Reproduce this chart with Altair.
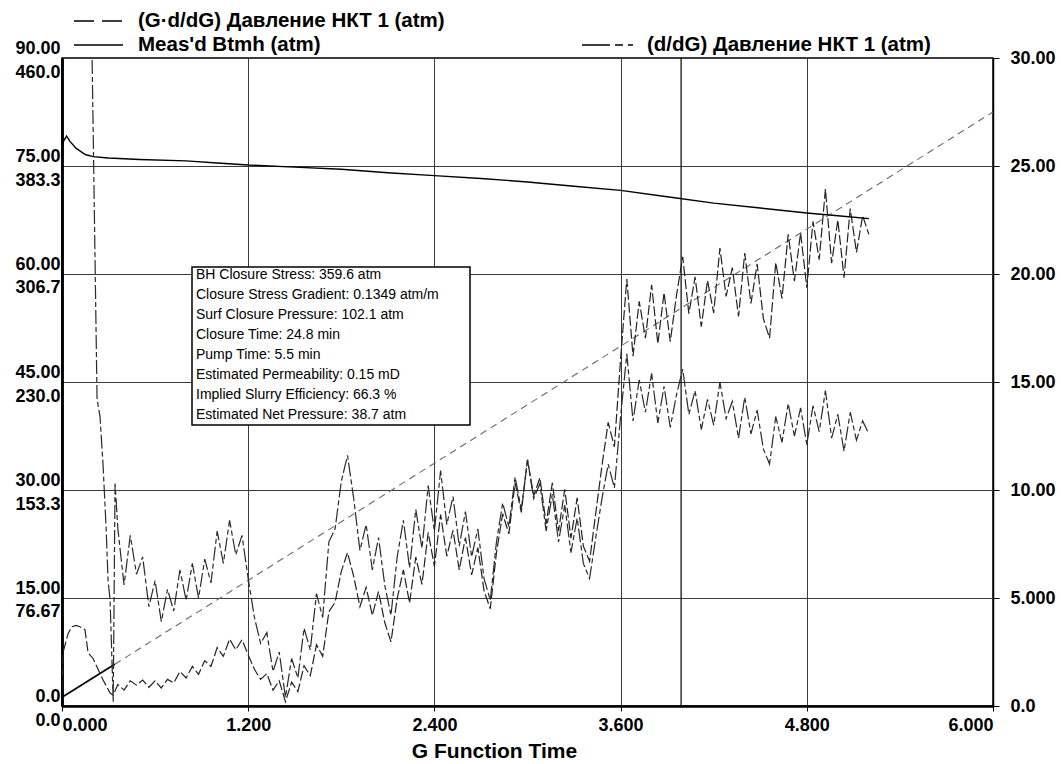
import altair as alt
import pandas as pd

# ---------------- data ----------------
FONT = "Liberation Sans"

X_TICKS = [0.0, 1.2, 2.4, 3.6, 4.8, 6.0]
LEFT1_TICKS = [0, 15, 30, 45, 60, 75, 90]                 # (G·d/dG) axis
LEFT2_TICKS = [0, 76.67, 153.33, 230.0, 306.67, 383.33, 460.0]  # pressure axis
RIGHT_TICKS = [0, 5, 10, 15, 20, 25, 30]                  # (d/dG) axis

# regular sampling of the noisy derivative curves
G_START = 0.36
G_STEP = 0.04

# (d/dG) Давление НКТ 1 (atm) - right axis
DDG_EARLY_G = [0.185, 0.194, 0.226, 0.245, 0.265, 0.284, 0.297, 0.31, 0.33, 0.342]
DDG_EARLY = [60.0, 30.0, 14.2, 13.4, 11.1, 8.3, 5.8, 4.9, 0.2, 10.3]
DDG_MAIN = [8.2, 5.6, 7.9, 6.1, 6.9, 4.6, 5.8, 3.9, 5.4, 4.4,
            6.3, 4.9, 6.6, 5.0, 6.8, 5.7, 8.1, 6.6, 8.6, 7.0,
            7.9, 5.9, 4.1, 2.9, 3.4, 1.6, 2.5, 0.4, 2.2, 1.3,
            3.6, 2.6, 5.2, 4.1, 7.6, 8.2, 10.4, 11.6, 9.6, 7.2,
            8.4, 6.3, 7.8, 5.6, 4.2, 6.9, 8.6, 6.4, 9.1, 7.3,
            10.2, 8.1, 10.9, 8.4, 9.7, 7.4, 9.0, 6.9, 8.2, 5.9,
            4.9, 7.6, 9.4, 8.3, 10.6, 9.1, 11.4, 9.6, 10.3, 8.1,
            9.8, 7.6, 9.3, 7.1, 8.7, 6.6, 5.9, 7.8, 9.6, 11.2,
            10.1, 13.4, 16.3, 13.2, 15.1, 13.6, 15.4, 13.1, 14.8, 12.9,
            14.4, 15.6, 13.5, 14.6, 12.8, 14.2, 13.0, 15.0, 13.3, 14.1,
            12.4, 14.3, 12.6, 13.7, 11.9, 11.2, 13.4, 12.2, 14.0, 12.5,
            13.8, 12.1, 13.9, 12.7, 14.6, 12.4, 13.5, 11.8, 13.6, 12.3,
            13.2, 12.6]

# (G·d/dG) Давление НКТ 1 (atm) - left axis 0..90
GDG_EARLY_G = [0.0, 0.006, 0.04, 0.065, 0.09, 0.116, 0.148, 0.168, 0.20, 0.226, 0.265, 0.29, 0.31, 0.33]
GDG_EARLY = [2.2, 7.4, 10.1, 11.0, 11.2, 11.0, 10.6, 7.4, 6.6, 5.4, 3.6, 2.6, 1.8, 1.5]
GDG_MAIN = [3.0, 2.2, 3.5, 2.9, 3.6, 2.6, 3.5, 2.5, 3.7, 3.2,
            4.8, 3.9, 5.5, 4.4, 6.3, 5.5, 8.1, 6.9, 9.3, 7.8,
            9.2, 7.1, 5.1, 3.7, 4.5, 2.2, 3.5, 0.6, 3.3, 2.0,
            5.6, 4.2, 8.5, 6.9, 13.1, 14.4, 18.7, 21.3, 18.0, 13.8,
            16.5, 12.6, 15.9, 11.6, 8.9, 14.9, 18.9, 14.3, 20.7, 16.9,
            24.1, 19.4, 26.6, 20.8, 24.4, 18.9, 23.4, 18.2, 22.0, 16.0,
            13.5, 21.3, 26.7, 23.9, 31.0, 26.9, 34.2, 29.2, 31.7, 25.3,
            31.0, 24.3, 30.1, 23.3, 28.9, 22.2, 20.1, 26.8, 33.4, 39.4,
            36.0, 48.2, 59.3, 48.6, 56.2, 51.1, 58.5, 50.3, 57.4, 50.6,
            57.0, 62.4, 54.5, 59.6, 52.7, 59.1, 54.6, 63.6, 56.9, 60.9,
            54.1, 62.9, 55.9, 61.4, 53.8, 51.1, 61.6, 56.6, 65.5, 59.0,
            65.7, 58.1, 67.3, 62.0, 71.8, 61.5, 67.5, 59.5, 69.1, 63.0,
            68.1, 65.5]

# Meas'd Btmh (atm) - left axis 0..460
P_G = [0.0, 0.01, 0.03, 0.05, 0.09, 0.15, 0.2, 0.3, 0.5, 0.8, 1.0, 1.2, 1.5,
       1.8, 2.1, 2.4, 2.7, 3.0, 3.3, 3.6, 3.9, 4.2, 4.5, 4.8, 5.0, 5.2]
P_VAL = [393, 401, 404.5, 401, 396, 391.5, 390, 389, 388, 387, 385.5, 384, 382.5,
         381, 378.5, 376.5, 374.5, 372, 369, 366, 361.5, 357, 353.5, 350, 348, 346]

# straight G·dP/dG tangent line through the origin
TANGENT_G = [0.0, 0.34, 6.0]
TANGENT_VAL = [1.2, 5.8, 82.5]

CLOSURE_G = [3.99]

BOX_LINES = [
    "BH Closure Stress: 359.6 atm",
    "Closure Stress Gradient: 0.1349 atm/m",
    "Surf Closure Pressure: 102.1 atm",
    "Closure Time: 24.8 min",
    "Pump Time: 5.5 min",
    "Estimated Permeability: 0.15 mD",
    "Implied Slurry Efficiency: 66.3 %",
    "Estimated Net Pressure: 38.7 atm",
]
LEGEND_LABELS = [
    "(G·d/dG) Давление НКТ 1 (atm)",
    "Meas'd Btmh (atm)",
    "(d/dG) Давление НКТ 1 (atm)",
]

# ---------------- tables ----------------
G_MAIN = [round(G_START + G_STEP * i, 2) for i in range(len(DDG_MAIN))]
ddg_df = pd.DataFrame({"G": DDG_EARLY_G + G_MAIN, "v": DDG_EARLY + DDG_MAIN})
gdg_df = pd.DataFrame({"G": GDG_EARLY_G + G_MAIN, "v": GDG_EARLY + GDG_MAIN})
p_df = pd.DataFrame({"G": P_G, "v": P_VAL})
tan_solid_df = pd.DataFrame({"G": TANGENT_G[:2], "v": TANGENT_VAL[:2]})
tan_dash_df = pd.DataFrame({"G": TANGENT_G[1:], "v": TANGENT_VAL[1:]})
closure_df = pd.DataFrame({"G": CLOSURE_G})
one = pd.DataFrame({"k": [0]})

W, H = 931, 648
GRID = "#3a3a3a"
LABEL_EXPR = "datum.value == 0 ? '0.0' : format(datum.value, '.4r')"
X_LABEL_EXPR = "datum.value == 0 ? '0.000' : format(datum.value, '.4r')"

x_scale = alt.Scale(domain=[0, 6], nice=False, zero=False)
x_axis = alt.Axis(
    values=X_TICKS, labelExpr=X_LABEL_EXPR, labelFlush=True, grid=True, gridColor=GRID, gridWidth=1,
    domainColor="black", domainWidth=2.5, tickColor="black", tickSize=5, labelPadding=5,
    labelFont=FONT, labelFontSize=18, labelFontWeight="bold", labelColor="black", labelOverlap=False,
    title="G Function Time", titleFont=FONT, titleFontSize=21, titleFontWeight="bold",
    titleColor="black", titleX=432, titleY=34, titleAlign="center", titleBaseline="top",
)
X = alt.X("G:Q", scale=x_scale, axis=x_axis)

left1_axis = alt.Axis(
    orient="left", values=LEFT1_TICKS, labelExpr=LABEL_EXPR, grid=True, gridColor=GRID,
    gridWidth=1, domainColor="black", domainWidth=2.5, ticks=False, labelPadding=2,
    labelBaseline="bottom", labelOffset=-1, labelFont=FONT, labelFontSize=18,
    labelFontWeight="bold", labelColor="black", labelOverlap=False,
)
left2_axis = alt.Axis(
    orient="left", values=LEFT2_TICKS, labelExpr=LABEL_EXPR, grid=False,
    domainColor="black", domainWidth=2.5, ticks=False, labelPadding=2,
    labelBaseline="top", labelOffset=5, labelFont=FONT, labelFontSize=18,
    labelFontWeight="bold", labelColor="black", labelOverlap=False,
)
right_axis = alt.Axis(
    orient="right", values=RIGHT_TICKS, labelExpr=LABEL_EXPR, grid=False,
    domainColor="black", domainWidth=1.5, tickColor="black", tickSize=6, labelPadding=11,
    labelBaseline="middle", labelFont=FONT, labelFontSize=18, labelFontWeight="bold",
    labelColor="black", labelOverlap=False,
)

Y1 = alt.Y("v:Q", scale=alt.Scale(domain=[0, 90], nice=False, zero=False), axis=left1_axis, title=None)
Y2 = alt.Y("v:Q", scale=alt.Scale(domain=[0, 460], nice=False, zero=False), axis=left2_axis, title=None)
Y3 = alt.Y("v:Q", scale=alt.Scale(domain=[0, 30], nice=False, zero=False), axis=right_axis, title=None)

# ---- left (G·d/dG) layer
gdg_line = alt.Chart(gdg_df).mark_line(color="#222222", strokeWidth=1.2, strokeDash=[10, 3], clip=True).encode(x=X, y=Y1)
tan_solid = alt.Chart(tan_solid_df).mark_line(color="black", strokeWidth=1.7, clip=True).encode(x=X, y=Y1)
tan_dash = alt.Chart(tan_dash_df).mark_line(color="#6a6a6a", strokeWidth=1.1, strokeDash=[7, 5], clip=True).encode(x=X, y=Y1)
closure = alt.Chart(closure_df).mark_rule(color="black", strokeWidth=1.2).encode(x=X)
left_layer = alt.layer(closure, tan_dash, tan_solid, gdg_line)

# ---- pressure layer
p_line = alt.Chart(p_df).mark_line(color="black", strokeWidth=1.4, clip=True).encode(x=X, y=Y2)

# ---- right (d/dG) layer
ddg_line = alt.Chart(ddg_df).mark_line(color="#2a2a2a", strokeWidth=1.2, strokeDash=[14, 3, 5, 3], clip=True).encode(x=X, y=Y3)

# ---- annotation box
box = alt.Chart(one).mark_rect(fill="white", stroke="black", strokeWidth=1.5).encode(
    x=alt.value(130), x2=alt.value(408), y=alt.value(209), y2=alt.value(367))
box_text = alt.Chart(one).mark_text(
    text=BOX_LINES, align="left", baseline="top", lineHeight=20, font=FONT, fontSize=14, color="black"
).encode(x=alt.value(134), y=alt.value(210))

# ---- legend (drawn above the plot)
def leg_text(label, x, y):
    return alt.Chart(one).mark_text(
        text=label, align="left", baseline="middle", font=FONT, fontSize=20.5, fontWeight="bold", color="black"
    ).encode(x=alt.value(x), y=alt.value(y))

def leg_rule(x1, x2, y, dash):
    kw = {"strokeDash": dash} if dash else {}
    return alt.Chart(one).mark_rule(color="black", strokeWidth=1.5, **kw).encode(
        x=alt.value(x1), x2=alt.value(x2), y=alt.value(y))

legend = alt.layer(
    leg_rule(12, 61, -37, [20, 8]), leg_text(LEGEND_LABELS[0], 76, -37),
    leg_rule(12, 61, -13, None), leg_text(LEGEND_LABELS[1], 76, -13),
    leg_rule(520, 571, -13, [28, 5, 8, 5]), leg_text(LEGEND_LABELS[2], 585, -13),
)

chart = alt.layer(
    left_layer, p_line, ddg_line, box, box_text, legend
).resolve_scale(y="independent").properties(
    width=W, height=H,
    autosize=alt.AutoSizeParams(type="none"),
    padding={"left": 62, "top": 58, "right": 68, "bottom": 58},
    background="white",
).configure_view(stroke="black", strokeWidth=1.5)

chart.save("out.html", embed_options={"renderer": "svg", "actions": False})
